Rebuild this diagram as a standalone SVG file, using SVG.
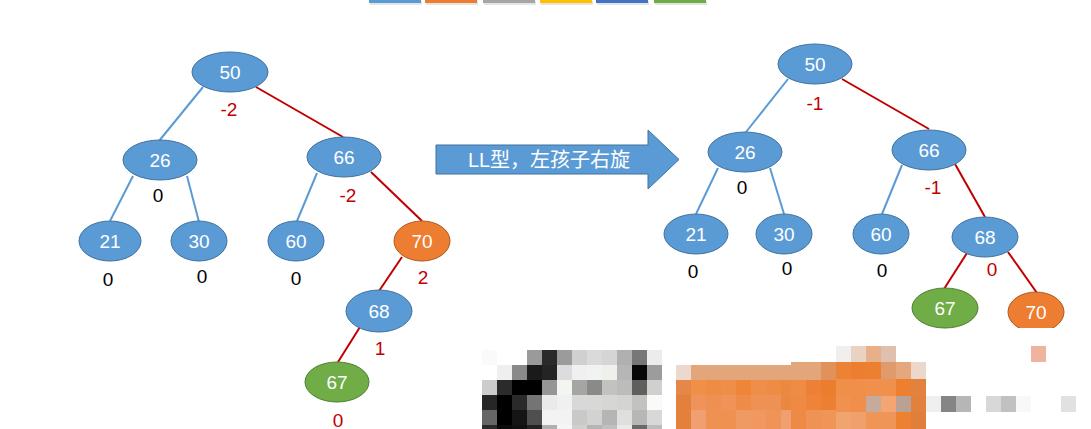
<svg xmlns="http://www.w3.org/2000/svg" width="1091" height="429" viewBox="0 0 1091 429">
<defs>
<style>
.nb{fill:#5b9bd5;stroke:#41719c;stroke-width:1}
.no{fill:#ed7d31;stroke:#ae5a21;stroke-width:1}
.ng{fill:#70ad47;stroke:#507e32;stroke-width:1}
.t{font-family:"Liberation Sans",Arial,sans-serif;font-size:19px;fill:#ffffff;text-anchor:middle}
.bf{font-family:"Liberation Sans",Arial,sans-serif;font-size:19px;text-anchor:middle}
.r{fill:#c00000}
.k{fill:#000000}
.eb{stroke:#5b9bd5;stroke-width:2;fill:none}
.er{stroke:#c00000;stroke-width:2;fill:none}
</style>
<clipPath id="clipR70"><rect x="990" y="280" width="100" height="48"/></clipPath>
</defs>
<rect width="1091" height="429" fill="#ffffff"/>

<g id="legend-bar">
<rect x="370" y="1" width="52" height="4" fill="#e4e4e4"/>
<rect x="369" y="0" width="52" height="3" fill="#5b9bd5"/>
<rect x="426" y="1" width="52" height="4" fill="#e4e4e4"/>
<rect x="425" y="0" width="52" height="3" fill="#ed7d31"/>
<rect x="484" y="1" width="52" height="4" fill="#e4e4e4"/>
<rect x="483" y="0" width="52" height="3" fill="#a5a5a5"/>
<rect x="541" y="1" width="52" height="4" fill="#e4e4e4"/>
<rect x="540" y="0" width="52" height="3" fill="#ffc000"/>
<rect x="597" y="1" width="52" height="4" fill="#e4e4e4"/>
<rect x="596" y="0" width="52" height="3" fill="#4472c4"/>
<rect x="655" y="1" width="52" height="4" fill="#e4e4e4"/>
<rect x="654" y="0" width="52" height="3" fill="#70ad47"/>
</g>

<g id="connectors">
<line class="eb" x1="203" y1="87" x2="159" y2="141"/>
<line class="er" x1="256" y1="87" x2="343" y2="137"/>
<line class="eb" x1="133" y1="176" x2="110" y2="221"/>
<line class="eb" x1="187" y1="176" x2="199" y2="222"/>
<line class="eb" x1="317" y1="173" x2="297" y2="221"/>
<line class="er" x1="371" y1="172" x2="422" y2="221"/>
<line class="er" x1="402" y1="257" x2="379" y2="291"/>
<line class="er" x1="360" y1="327" x2="338" y2="362"/>

<line class="eb" x1="788" y1="79" x2="746" y2="132"/>
<line class="er" x1="842" y1="79" x2="929" y2="129"/>
<line class="eb" x1="718" y1="168" x2="696" y2="214"/>
<line class="eb" x1="770" y1="168" x2="784" y2="214"/>
<line class="eb" x1="902" y1="165" x2="882" y2="214"/>
<line class="er" x1="955" y1="164" x2="985" y2="217"/>
<line class="er" x1="967" y1="253" x2="944" y2="289"/>
<line class="er" x1="1008" y1="252" x2="1037" y2="293"/>
</g>

<g id="L50"><ellipse class="nb" cx="230" cy="72" rx="38" ry="20"/><text class="t" x="230" y="79">50</text><text class="bf r" x="229" y="116">-2</text></g>
<g id="L26"><ellipse class="nb" cx="160" cy="160" rx="37" ry="20"/><text class="t" x="160" y="167">26</text><text class="bf k" x="158" y="202">0</text></g>
<g id="L66"><ellipse class="nb" cx="344" cy="157" rx="37" ry="20"/><text class="t" x="344" y="164">66</text><text class="bf r" x="348" y="202">-2</text></g>
<g id="L21"><ellipse class="nb" cx="110" cy="241" rx="31" ry="20"/><text class="t" x="110" y="248">21</text><text class="bf k" x="108" y="286">0</text></g>
<g id="L30"><ellipse class="nb" cx="199" cy="241" rx="28" ry="20"/><text class="t" x="199" y="248">30</text><text class="bf k" x="202" y="283">0</text></g>
<g id="L60"><ellipse class="nb" cx="296" cy="241" rx="28" ry="20"/><text class="t" x="296" y="248">60</text><text class="bf k" x="296" y="285">0</text></g>
<g id="L70"><ellipse class="no" cx="422" cy="241" rx="28" ry="20"/><text class="t" x="422" y="248">70</text><text class="bf r" x="423" y="284">2</text></g>
<g id="L68"><ellipse class="nb" cx="379" cy="311" rx="33" ry="21"/><text class="t" x="379" y="318">68</text><text class="bf r" x="380" y="355">1</text></g>
<g id="L67"><ellipse class="ng" cx="337" cy="382" rx="32" ry="20"/><text class="t" x="337" y="389">67</text><text class="bf r" x="338" y="427">0</text></g>

<g id="arrow">
<path d="M436,145 H648 V130 L679,159.5 L648,189 V174 H436 Z" fill="#5b9bd5" stroke="#41719c" stroke-width="1"/>
<text x="549" y="167" font-family="'Liberation Sans','Noto Sans CJK SC',sans-serif" font-size="20" fill="#ffffff" text-anchor="middle">LL型，左孩子右旋</text>
</g>

<g id="R50"><ellipse class="nb" cx="815" cy="64" rx="37" ry="20"/><text class="t" x="815" y="71">50</text><text class="bf r" x="815" y="110">-1</text></g>
<g id="R26"><ellipse class="nb" cx="745" cy="152" rx="37" ry="20"/><text class="t" x="745" y="159">26</text><text class="bf k" x="742" y="194">0</text></g>
<g id="R66"><ellipse class="nb" cx="929" cy="150" rx="37" ry="20"/><text class="t" x="929" y="157">66</text><text class="bf r" x="933" y="194">-1</text></g>
<g id="R21"><ellipse class="nb" cx="696" cy="234" rx="32" ry="20"/><text class="t" x="696" y="241">21</text><text class="bf k" x="693" y="278">0</text></g>
<g id="R30"><ellipse class="nb" cx="784" cy="234" rx="28" ry="20"/><text class="t" x="784" y="241">30</text><text class="bf k" x="787" y="275">0</text></g>
<g id="R60"><ellipse class="nb" cx="881" cy="234" rx="28" ry="20"/><text class="t" x="881" y="241">60</text><text class="bf k" x="882" y="277">0</text></g>
<g id="R68"><ellipse class="nb" cx="985" cy="237" rx="33" ry="20"/><text class="t" x="985" y="244">68</text><text class="bf r" x="992" y="276">0</text></g>
<g id="R67"><ellipse class="ng" cx="945" cy="308" rx="33" ry="20"/><text class="t" x="945" y="315">67</text></g>
<g id="R70" clip-path="url(#clipR70)"><ellipse class="no" cx="1036" cy="312" rx="28" ry="20"/><text class="t" x="1036" y="319">70</text></g>

<g id="mosaic-gray">
<rect x="482" y="350" width="15" height="15" fill="#fafafa"/>
<rect x="527" y="350" width="15" height="15" fill="#9a9a9a"/>
<rect x="542" y="350" width="15" height="15" fill="#2a2a2a"/>
<rect x="557" y="350" width="15" height="15" fill="#9b9b9b"/>
<rect x="572" y="350" width="15" height="15" fill="#d0d0d0"/>
<rect x="587" y="350" width="15" height="15" fill="#dadada"/>
<rect x="602" y="350" width="15" height="15" fill="#d5d5d5"/>
<rect x="617" y="350" width="15" height="15" fill="#b0b0b0"/>
<rect x="632" y="350" width="15" height="15" fill="#777777"/>
<rect x="647" y="350" width="15" height="15" fill="#ececec"/>

<rect x="497" y="365" width="15" height="15" fill="#efefef"/>
<rect x="512" y="365" width="15" height="15" fill="#898989"/>
<rect x="527" y="365" width="15" height="15" fill="#1a1a1a"/>
<rect x="542" y="365" width="15" height="15" fill="#242424"/>
<rect x="557" y="365" width="15" height="15" fill="#dcdcdc"/>
<rect x="572" y="365" width="15" height="15" fill="#eff0ef"/>
<rect x="587" y="365" width="15" height="15" fill="#f1f3f0"/>
<rect x="602" y="365" width="15" height="15" fill="#eef1ea"/>
<rect x="617" y="365" width="15" height="15" fill="#b6b6b6"/>
<rect x="632" y="365" width="15" height="15" fill="#080808"/>
<rect x="647" y="365" width="15" height="15" fill="#9c9c9c"/>

<rect x="482" y="380" width="15" height="15" fill="#cccccc"/>
<rect x="497" y="380" width="15" height="15" fill="#2b2b2b"/>
<rect x="512" y="380" width="15" height="15" fill="#000000"/>
<rect x="527" y="380" width="15" height="15" fill="#000000"/>
<rect x="542" y="380" width="15" height="15" fill="#959595"/>
<rect x="557" y="380" width="15" height="15" fill="#f3f5f1"/>
<rect x="572" y="380" width="15" height="15" fill="#a4a6a2"/>
<rect x="587" y="380" width="15" height="15" fill="#8a8a8a"/>
<rect x="602" y="380" width="15" height="15" fill="#c2c3c1"/>
<rect x="617" y="380" width="15" height="15" fill="#bcbdbb"/>
<rect x="632" y="380" width="15" height="15" fill="#5f605e"/>
<rect x="647" y="380" width="15" height="15" fill="#d0d0d0"/>

<rect x="482" y="395" width="15" height="15" fill="#262626"/>
<rect x="497" y="395" width="15" height="15" fill="#000000"/>
<rect x="512" y="395" width="15" height="15" fill="#2a2a2a"/>
<rect x="527" y="395" width="15" height="15" fill="#747474"/>
<rect x="542" y="395" width="15" height="15" fill="#eaeaea"/>
<rect x="557" y="395" width="15" height="15" fill="#eff0ef"/>
<rect x="572" y="395" width="15" height="15" fill="#d8d8d8"/>
<rect x="587" y="395" width="15" height="15" fill="#d8d9d7"/>
<rect x="602" y="395" width="15" height="15" fill="#d6d7d5"/>
<rect x="617" y="395" width="15" height="15" fill="#d4d4d4"/>
<rect x="632" y="395" width="15" height="15" fill="#c2c3c1"/>
<rect x="647" y="395" width="15" height="15" fill="#fafbf9"/>

<rect x="482" y="410" width="15" height="15" fill="#666666"/>
<rect x="497" y="410" width="15" height="15" fill="#000000"/>
<rect x="512" y="410" width="15" height="15" fill="#151515"/>
<rect x="527" y="410" width="15" height="15" fill="#4f4f4f"/>
<rect x="542" y="410" width="15" height="15" fill="#f3f3f3"/>
<rect x="557" y="410" width="15" height="15" fill="#f3f3f3"/>
<rect x="572" y="410" width="15" height="15" fill="#c9cac8"/>
<rect x="587" y="410" width="15" height="15" fill="#d2d3d1"/>
<rect x="602" y="410" width="15" height="15" fill="#b5b5b5"/>
<rect x="617" y="410" width="15" height="15" fill="#dfe0de"/>
<rect x="632" y="410" width="15" height="15" fill="#b7b8b6"/>
<rect x="647" y="410" width="15" height="15" fill="#d8d8d8"/>

<rect x="482" y="425" width="15" height="4" fill="#2a2a2a"/>
<rect x="497" y="425" width="15" height="4" fill="#0a0a0a"/>
<rect x="512" y="425" width="15" height="4" fill="#111111"/>
<rect x="527" y="425" width="15" height="4" fill="#222222"/>
<rect x="542" y="425" width="15" height="4" fill="#b0b0b0"/>
<rect x="557" y="425" width="15" height="4" fill="#f5f5f5"/>
<rect x="572" y="425" width="15" height="4" fill="#d0d0d0"/>
<rect x="587" y="425" width="15" height="4" fill="#b5b5b5"/>
<rect x="602" y="425" width="15" height="4" fill="#c0c0c0"/>
<rect x="617" y="425" width="15" height="4" fill="#eaeaea"/>
<rect x="632" y="425" width="15" height="4" fill="#6a6a6a"/>
<rect x="647" y="425" width="15" height="4" fill="#bcbcbc"/>
</g>

<g id="mosaic-orange">
<rect x="676" y="365" width="15" height="15" fill="#ecd8cc"/>
<rect x="691" y="365" width="100" height="15" fill="#e3a67b"/>
<rect x="791" y="362" width="30" height="18" fill="#e3a67b"/>
<rect x="821" y="362" width="15" height="18" fill="#e0925a"/>

<rect x="676" y="380" width="15" height="15" fill="#e3884a"/>
<rect x="691" y="380" width="15" height="15" fill="#ef8f48"/>
<rect x="706" y="380" width="15" height="15" fill="#ee8c45"/>
<rect x="721" y="380" width="15" height="15" fill="#ef8e49"/>
<rect x="736" y="380" width="15" height="15" fill="#ee8538"/>
<rect x="751" y="380" width="15" height="15" fill="#ef8e48"/>
<rect x="766" y="380" width="15" height="15" fill="#ee8b45"/>
<rect x="781" y="380" width="10" height="15" fill="#ec8842"/>
<rect x="791" y="380" width="15" height="15" fill="#ee8b46"/>
<rect x="806" y="380" width="15" height="15" fill="#ec8036"/>
<rect x="821" y="380" width="15" height="15" fill="#eb7d2f"/>

<rect x="676" y="395" width="15" height="15" fill="#e3803c"/>
<rect x="691" y="395" width="15" height="15" fill="#f0935a"/>
<rect x="706" y="395" width="15" height="15" fill="#ef9053"/>
<rect x="721" y="395" width="15" height="15" fill="#f09358"/>
<rect x="736" y="395" width="15" height="15" fill="#ee8b46"/>
<rect x="751" y="395" width="15" height="15" fill="#ef9153"/>
<rect x="766" y="395" width="15" height="15" fill="#ee9155"/>
<rect x="781" y="395" width="10" height="15" fill="#ec873f"/>
<rect x="791" y="395" width="15" height="15" fill="#ee8a44"/>
<rect x="806" y="395" width="15" height="15" fill="#ed8437"/>
<rect x="821" y="395" width="15" height="15" fill="#ec7f31"/>

<rect x="676" y="410" width="15" height="19" fill="#e3803c"/>
<rect x="691" y="410" width="15" height="19" fill="#f0a070"/>
<rect x="706" y="410" width="15" height="19" fill="#ef9150"/>
<rect x="721" y="410" width="15" height="19" fill="#ef9150"/>
<rect x="736" y="410" width="15" height="19" fill="#f09a63"/>
<rect x="751" y="410" width="15" height="19" fill="#f09860"/>
<rect x="766" y="410" width="15" height="19" fill="#ef9358"/>
<rect x="781" y="410" width="10" height="19" fill="#f0a070"/>
<rect x="791" y="410" width="15" height="19" fill="#ed8a45"/>
<rect x="806" y="410" width="15" height="19" fill="#ee9256"/>
<rect x="821" y="410" width="15" height="19" fill="#ef9557"/>

<rect x="836" y="346" width="15" height="16" fill="#f0efed"/>
<rect x="851" y="346" width="15" height="16" fill="#ead2c2"/>
<rect x="866" y="346" width="15" height="16" fill="#e7b08a"/>
<rect x="881" y="346" width="15" height="16" fill="#dfc0ae"/>
<rect x="1031" y="346" width="15" height="16" fill="#f0b3a0"/>

<rect x="836" y="362" width="15" height="17" fill="#eb8236"/>
<rect x="851" y="362" width="15" height="17" fill="#ed7e2f"/>
<rect x="866" y="362" width="15" height="17" fill="#ed7f30"/>
<rect x="881" y="362" width="15" height="17" fill="#e09a6c"/>
<rect x="896" y="362" width="15" height="17" fill="#e5a87d"/>
<rect x="911" y="362" width="15" height="17" fill="#ecd8cb"/>

<rect x="836" y="379" width="15" height="17" fill="#f08f48"/>
<rect x="851" y="379" width="15" height="17" fill="#f08f49"/>
<rect x="866" y="379" width="15" height="17" fill="#f0904c"/>
<rect x="881" y="379" width="15" height="17" fill="#ef914d"/>
<rect x="896" y="379" width="15" height="17" fill="#ed7f31"/>
<rect x="911" y="379" width="15" height="17" fill="#e3813f"/>

<rect x="836" y="396" width="15" height="16" fill="#f09150"/>
<rect x="851" y="396" width="15" height="16" fill="#f08f4c"/>
<rect x="866" y="396" width="15" height="16" fill="#c6ab9c"/>
<rect x="881" y="396" width="15" height="16" fill="#f3a672"/>
<rect x="896" y="396" width="15" height="16" fill="#bba193"/>
<rect x="911" y="396" width="15" height="16" fill="#e2803d"/>
<rect x="926" y="396" width="15" height="16" fill="#efefef"/>
<rect x="941" y="396" width="15" height="16" fill="#858585"/>
<rect x="956" y="396" width="15" height="16" fill="#b6b6b6"/>
<rect x="986" y="396" width="15" height="16" fill="#d8d8d8"/>
<rect x="1001" y="396" width="15" height="16" fill="#c1c1c1"/>
<rect x="1016" y="396" width="15" height="16" fill="#f8f8f8"/>
<rect x="1061" y="396" width="15" height="16" fill="#e1e1e1"/>

<rect x="836" y="412" width="15" height="17" fill="#f0a46e"/>
<rect x="851" y="412" width="15" height="17" fill="#f0a06c"/>
<rect x="866" y="412" width="15" height="17" fill="#ef9555"/>
<rect x="881" y="412" width="15" height="17" fill="#ef9558"/>
<rect x="896" y="412" width="15" height="17" fill="#ed8132"/>
<rect x="911" y="412" width="15" height="17" fill="#e07f3c"/>
</g>
</svg>
